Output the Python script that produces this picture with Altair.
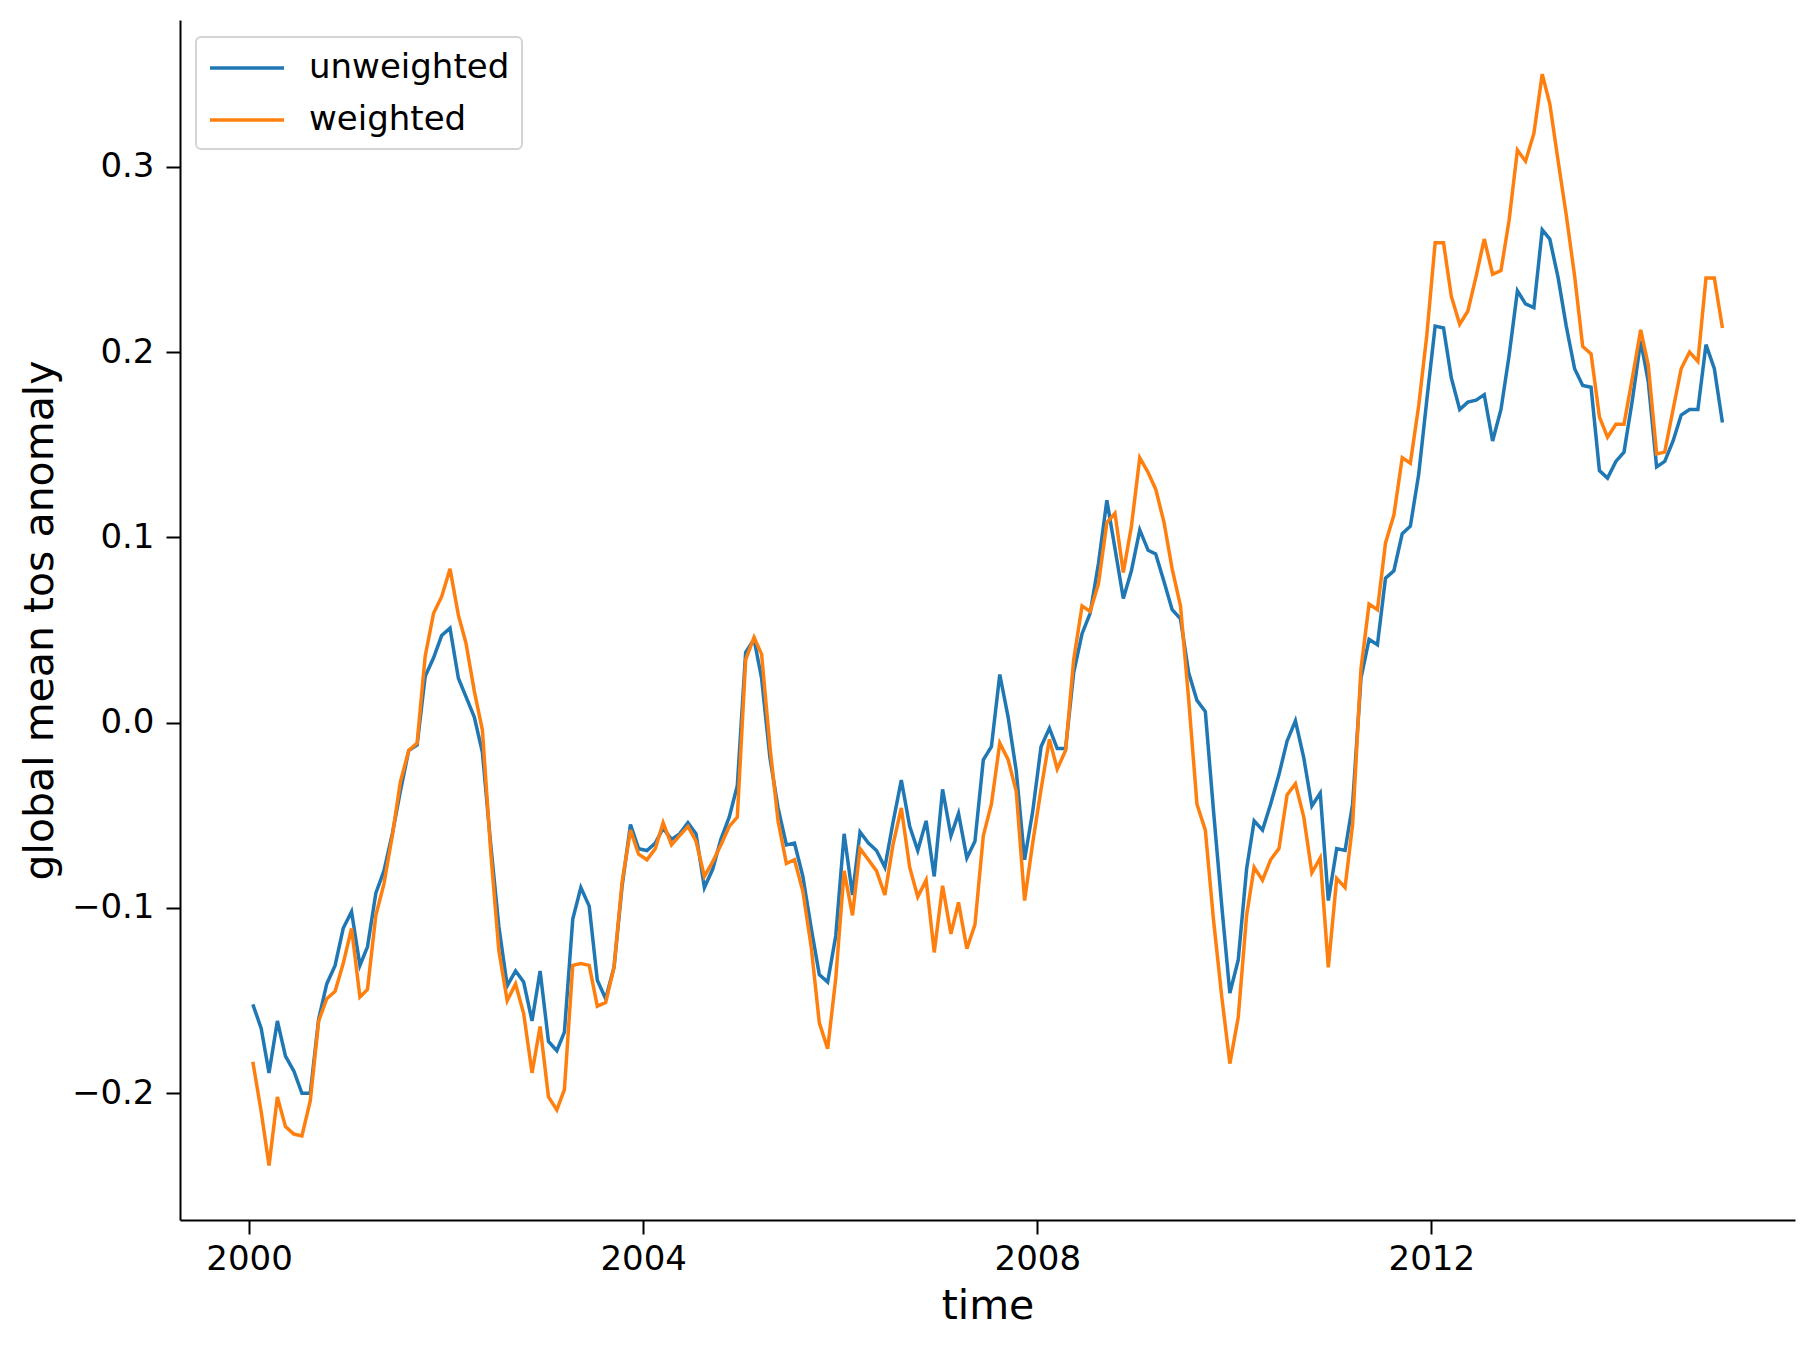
import altair as alt
import pandas as pd

unweighted = [
    -0.152, -0.165, -0.189, -0.161, -0.180, -0.188, -0.200, -0.200, -0.160, -0.141, -0.131, -0.111,
    -0.102, -0.131, -0.121, -0.092, -0.080, -0.060, -0.037, -0.015, -0.012, 0.025, 0.035, 0.047,
    0.051, 0.024, 0.014, 0.003, -0.016, -0.066, -0.110, -0.142, -0.134, -0.140, -0.161, -0.134,
    -0.172, -0.177, -0.167, -0.106, -0.089, -0.099, -0.139, -0.149, -0.132, -0.088, -0.055, -0.068,
    -0.069, -0.065, -0.057, -0.063, -0.060, -0.054, -0.060, -0.089, -0.079, -0.063, -0.051, -0.034,
    0.038, 0.045, 0.024, -0.019, -0.046, -0.066, -0.065, -0.083, -0.111, -0.136, -0.140, -0.115,
    -0.060, -0.093, -0.059, -0.065, -0.069, -0.078, -0.054, -0.031, -0.056, -0.069, -0.053, -0.083,
    -0.036, -0.061, -0.049, -0.073, -0.064, -0.020, -0.013, 0.026, 0.003, -0.026, -0.074, -0.048,
    -0.013, -0.003, -0.014, -0.014, 0.027, 0.048, 0.059, 0.086, 0.120, 0.094, 0.067, 0.082,
    0.104, 0.093, 0.091, 0.076, 0.061, 0.056, 0.027, 0.012, 0.006, -0.047, -0.099, -0.146,
    -0.128, -0.079, -0.053, -0.058, -0.044, -0.028, -0.010, 0.001, -0.019, -0.045, -0.038, -0.096,
    -0.068, -0.069, -0.044, 0.024, 0.045, 0.042, 0.078, 0.082, 0.102, 0.106, 0.134, 0.174,
    0.214, 0.213, 0.186, 0.169, 0.173, 0.174, 0.177, 0.152, 0.169, 0.198, 0.233, 0.226,
    0.224, 0.266, 0.261, 0.240, 0.214, 0.191, 0.182, 0.181, 0.136, 0.132, 0.141, 0.146,
    0.174, 0.206, 0.184, 0.138, 0.141, 0.152, 0.166, 0.169, 0.169, 0.204, 0.191, 0.162,
]

weighted = [
    -0.183, -0.210, -0.239, -0.202, -0.218, -0.222, -0.223, -0.204, -0.161, -0.149, -0.145, -0.130,
    -0.111, -0.148, -0.144, -0.104, -0.087, -0.061, -0.032, -0.015, -0.011, 0.036, 0.059, 0.068,
    0.083, 0.058, 0.043, 0.017, -0.004, -0.070, -0.123, -0.150, -0.141, -0.157, -0.189, -0.164,
    -0.202, -0.209, -0.198, -0.131, -0.130, -0.131, -0.153, -0.151, -0.132, -0.086, -0.058, -0.071,
    -0.074, -0.068, -0.054, -0.066, -0.061, -0.056, -0.064, -0.083, -0.075, -0.066, -0.056, -0.051,
    0.034, 0.046, 0.037, -0.013, -0.053, -0.076, -0.074, -0.091, -0.121, -0.162, -0.176, -0.138,
    -0.080, -0.104, -0.068, -0.074, -0.080, -0.093, -0.066, -0.046, -0.078, -0.094, -0.085, -0.124,
    -0.088, -0.114, -0.097, -0.122, -0.109, -0.061, -0.044, -0.011, -0.020, -0.037, -0.096, -0.065,
    -0.036, -0.009, -0.025, -0.015, 0.034, 0.063, 0.060, 0.075, 0.108, 0.113, 0.081, 0.106,
    0.143, 0.135, 0.126, 0.108, 0.083, 0.063, 0.013, -0.044, -0.058, -0.106, -0.148, -0.184,
    -0.159, -0.104, -0.078, -0.085, -0.074, -0.068, -0.039, -0.033, -0.051, -0.081, -0.073, -0.132,
    -0.084, -0.089, -0.055, 0.029, 0.064, 0.061, 0.097, 0.112, 0.143, 0.140, 0.171, 0.209,
    0.259, 0.259, 0.230, 0.215, 0.222, 0.241, 0.261, 0.242, 0.244, 0.271, 0.309, 0.303,
    0.318, 0.350, 0.334, 0.303, 0.274, 0.241, 0.203, 0.199, 0.165, 0.154, 0.161, 0.161,
    0.186, 0.212, 0.193, 0.145, 0.146, 0.169, 0.191, 0.200, 0.195, 0.240, 0.240, 0.213,
]

series_names = ["unweighted", "weighted"]
series_colors = ["#1f77b4", "#ff7f0e"]
y_ticks = [-0.2, -0.1, 0.0, 0.1, 0.2, 0.3]
x_tick_years = [2000, 2004, 2008, 2012]

times = [f"{2000 + i // 12}-{i % 12 + 1:02d}-15T00:00:00" for i in range(len(unweighted))]

rows = []
for t, u, w in zip(times, unweighted, weighted):
    rows.append({"time": t, "value": u, "series": "unweighted"})
    rows.append({"time": t, "value": w, "series": "weighted"})
df = pd.DataFrame(rows)

FONT = "DejaVu Sans"

chart = alt.Chart(df).mark_line(strokeWidth=3.5).encode(
    x=alt.X(
        "time:T",
        title="time",
        scale=alt.Scale(
            domain=[alt.DateTime(year=1999, month=4, date=20), alt.DateTime(year=2015, month=9, date=10)]
        ),
        axis=alt.Axis(
            values=[alt.DateTime(year=y, month=1, date=1) for y in x_tick_years],
            format="%Y",
            labelPadding=8,
            titlePadding=10,
        ),
    ),
    y=alt.Y(
        "value:Q",
        title="global mean tos anomaly",
        scale=alt.Scale(domain=[-0.2684, 0.3792], nice=False, zero=False),
        axis=alt.Axis(values=y_ticks, format=".1f", labelPadding=12, titlePadding=10),
    ),
    color=alt.Color(
        "series:N",
        scale=alt.Scale(domain=series_names, range=series_colors),
        legend=alt.Legend(
            title=None,
            orient="none",
            legendX=16,
            legendY=17,
            symbolType="M -2.2 0 L 2.2 0",
            symbolSize=1131,
            symbolStrokeWidth=3.5,
            symbolOffset=20,
            labelFontSize=34,
            labelFont=FONT,
            labelColor="black",
            labelOffset=43,
            labelLimit=0,
            rowPadding=16,
            padding=12,
            fillColor="white",
            strokeColor="#d4d4d4",
            cornerRadius=5,
        ),
    ),
).properties(
    width=1615,
    height=1200,
    padding={"left": 172, "top": 12, "right": 13, "bottom": 110},
    autosize=alt.AutoSizeParams(type="none"),
).configure_view(
    stroke=None
).configure_axis(
    grid=False,
    domainColor="black",
    domainWidth=2,
    tickColor="black",
    tickWidth=2,
    tickSize=14,
    labelFont=FONT,
    labelFontSize=34,
    labelColor="black",
    titleFont=FONT,
    titleFontSize=41,
    titleFontWeight="normal",
    titleColor="black",
).configure_legend(
    strokeWidth=2,
)

chart.save("out.html", embed_options={"renderer": "svg", "actions": False})
